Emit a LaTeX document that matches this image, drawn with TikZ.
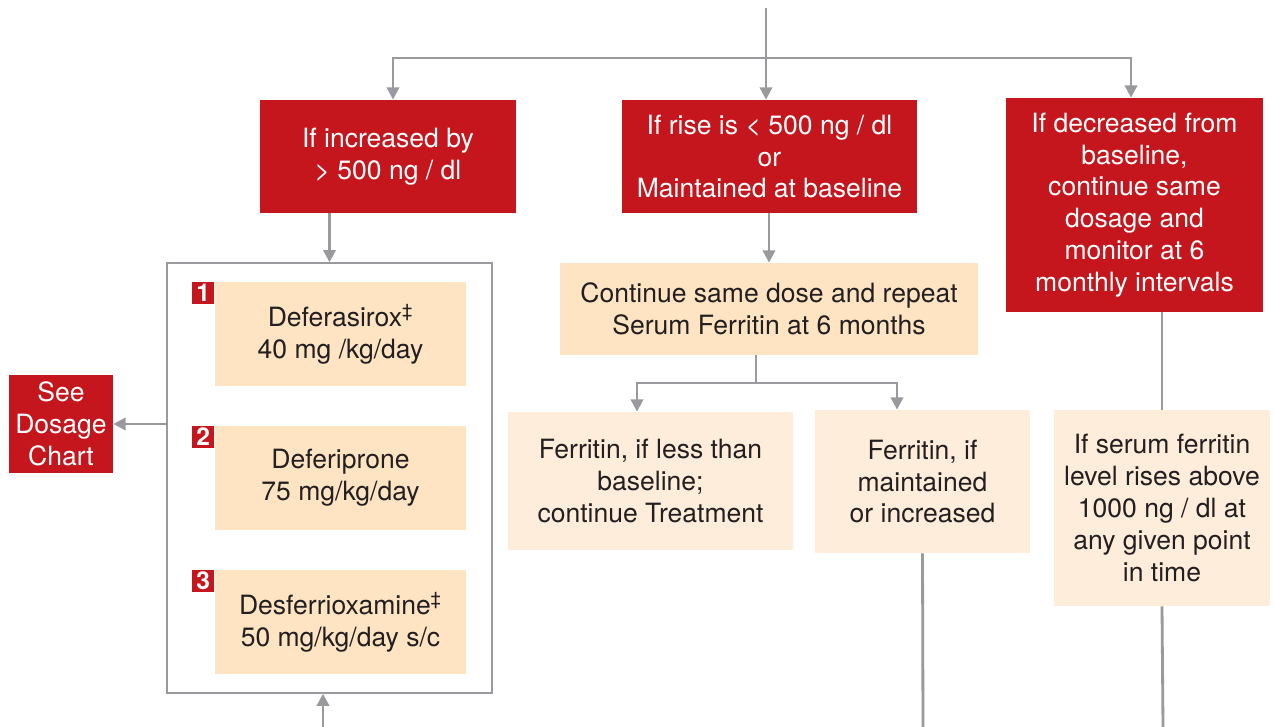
\documentclass[tikz,border=0pt]{standalone}
\usepackage{fontspec}
\setmainfont{TeX Gyre Heros}
\usepackage{xcolor}
\usetikzlibrary{shapes,arrows.meta,positioning}

\definecolor{boxred}{HTML}{C4161C}
\definecolor{peach}{HTML}{FEE4C3}
\definecolor{lightpeach}{HTML}{FEEDDA}
\definecolor{linegray}{HTML}{9A9A9E}
\definecolor{textdark}{HTML}{231F20}

\begin{document}
\begin{tikzpicture}[x=0.02cm,y=-0.02cm,
  redbox/.style={fill=boxred,text=white,align=center,inner sep=0pt,
    font=\fontsize{15.1}{18.1}\selectfont},
  dosebox/.style={fill=peach,text=textdark,align=center,inner sep=0pt,
    font=\fontsize{15.1}{18.1}\selectfont},
  resultbox/.style={fill=lightpeach,text=textdark,align=center,inner sep=0pt,
    font=\fontsize{15.1}{18.1}\selectfont},
  badge/.style={fill=boxred,text=white,inner sep=0pt,minimum size=0.44cm,
    font=\fontsize{14}{14}\bfseries\selectfont},
  conn/.style={draw=linegray,line width=1.6pt},
  arr/.style={conn,-{Triangle[width=7pt,length=7pt]}}]
\useasboundingbox (0,0) rectangle (1275,727);

% Decision boxes
\node[redbox,minimum width=5.12cm,minimum height=2.26cm] (rise) at (388,156.5)
  {If increased by\\> 500 ng / dl};
\node[redbox,minimum width=5.9cm,minimum height=2.26cm] (same) at (769.5,156.5)
  {If rise is < 500 ng / dl\\or\\Maintained at baseline};
\node[redbox,minimum width=5.14cm,minimum height=4.28cm] (fall) at (1134.5,205)
  {If decreased from\\baseline,\\continue same\\dosage and\\monitor at 6\\monthly intervals};

% Drug options
\node[draw=linegray,line width=0.8pt,minimum width=6.5cm,minimum height=8.6cm] (frame) at (329.5,478) {};
\foreach \i/\drug/\dose [count=\k] in {334/{Deferasirox\textsuperscript{‡}}/{40 mg /kg/day},
    478/{Deferiprone}/{75 mg/kg/day},
    622/{Desferrioxamine\textsuperscript{‡}}/{50 mg/kg/day s/c}} {
  \node[dosebox,minimum width=5.02cm,minimum height=2.08cm] (drug\k) at (340.5,\i) {\drug\\\dose};
  \node[badge,anchor=north east] (num\k) at (drug\k.north west) {\k};
}
\node[redbox,minimum width=2.08cm,minimum height=1.96cm] (chart) at (61,424)
  {See\\Dosage\\Chart};

% Follow up
\node[dosebox,minimum width=8.36cm,minimum height=1.84cm] (repeat) at (769,309)
  {Continue same dose and repeat\\Serum Ferritin at 6 months};
\node[resultbox,minimum width=5.7cm,minimum height=2.76cm] (less) at (650.5,481)
  {Ferritin, if less than\\baseline;\\continue Treatment};
\node[resultbox,minimum width=4.3cm,minimum height=2.86cm] (more) at (922.5,481.5)
  {Ferritin, if\\maintained\\or increased};
\node[resultbox,minimum width=4.32cm,minimum height=3.92cm] (serum) at (1162,508)
  {If serum ferritin\\level rises above\\1000 ng / dl at\\any given point\\in time};

% Connectors
\coordinate (top) at (766,8);
\coordinate (split) at (766,58);
\coordinate (fork) at (756,383);
\coordinate (back) at (323,727);
\coordinate (downmid) at (923,727);
\coordinate (downright) at (1163,727);
\draw[arr] (top) -- (top |- same.north);
\draw[arr] (split) -| ([xshift=0.1cm]rise.north);
\draw[arr] (split) -| ([xshift=-0.07cm]fall.north);
\draw[arr] (rise.south -| frame.north) -- (frame.north);
\draw[arr] (frame.west |- chart.east) -- (chart.east);
\draw[arr] (back) -- (back |- frame.south);
\draw[arr] (same.south -| repeat.north) -- (repeat.north);
\draw[conn] (repeat.south -| fork) -- (fork);
\draw[arr] (fork) -| ([xshift=-0.27cm]less.north);
\draw[arr] (fork) -| ([xshift=-0.51cm]more.north);
\draw[conn] (more.south) -- (downmid);
\draw[conn] (fall.south -| serum.north) -- (serum.north);
\draw[conn] (serum.south) -- (downright);

\end{tikzpicture}
\end{document}
